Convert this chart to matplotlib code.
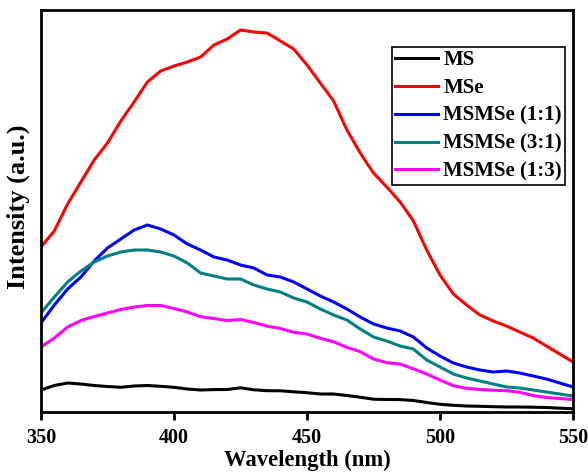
import numpy as np
import matplotlib
matplotlib.use('Agg')
import matplotlib.pyplot as plt

# espectros de fotoluminescência (intensidade em unidades arbitrárias)
wavelength = np.arange(350, 551, 5)

ms = [22, 26.5, 29, 28, 26.5, 25.5, 24.7, 26, 26.5, 25.7, 24.7, 23, 22, 22.4, 22.5,
      24.2, 22.2, 21.3, 21.2, 20.2, 19.3, 18, 18, 16.5, 14.8, 12.8, 12.5, 12.4, 11.5,
      9.5, 7.7, 6.7, 6, 5.7, 5.3, 5, 5, 4.8, 4.5, 3.8, 3.3]
mse = [165, 181, 208, 230, 252, 269, 291, 310, 330, 341, 346, 350, 355, 367, 373,
       382, 380, 379, 371, 363, 347, 329, 311, 282, 259, 239, 225, 210, 191, 162,
       137, 118, 107, 97, 91, 86, 80, 74, 66, 58, 50]
msmse_11 = [89, 107, 123, 135, 151, 164, 173, 182, 187, 183, 177, 168, 162, 155, 152,
            147, 144, 137, 135, 130, 123, 116, 110, 103, 95, 88, 84, 81, 75, 64, 56,
            49, 45, 42, 40, 41, 39, 36, 33, 29, 25]
msmse_31 = [99, 115, 130, 141, 150, 156, 160, 162, 162, 160, 156, 149, 139, 136, 133,
            133, 127, 123, 120, 114, 110, 103, 97, 92, 83, 75, 71, 66, 63, 52, 45, 38,
            34, 31, 28, 25, 24, 22, 20, 18, 16]
msmse_13 = [65, 74, 85, 91.5, 95.5, 99, 102.5, 105, 106.5, 106.5, 103.5, 100, 95.3,
            93.5, 91.5, 92.5, 89.5, 85.8, 83.5, 79.7, 78, 73.7, 70.2, 64.6, 60.3, 53,
            49.3, 48, 43.2, 38, 32, 26.3, 23.7, 22.5, 21.8, 21.3, 19.7, 16.4, 14.5,
            13.5, 12.5]

series = [ms, mse, msmse_11, msmse_31, msmse_13]
labels = ['MS', 'MSe', 'MSMSe (1:1)', 'MSMSe (3:1)', 'MSMSe (1:3)']
colors = ['black', '#ff0000', '#0000ff', '#008080', '#ff00ff']

plt.rcParams['font.family'] = ['Liberation Serif', 'DejaVu Serif']
plt.rcParams['font.weight'] = 'bold'

fig = plt.figure(figsize=(5.88, 4.72), dpi=100)
ax = fig.add_axes([41 / 588, 60 / 472, 532 / 588, 402 / 472])

for y, label, color in zip(series, labels, colors):
    ax.plot(wavelength, y, color=color, lw=2.2, label=label)

ax.set_xlim(350, 550)
ax.set_ylim(0, 402)
ax.set_xticks([350, 400, 450, 500, 550])
ax.set_yticks([])
ax.tick_params(axis='x', direction='out', length=5.5, width=2, pad=6, labelsize=14.5)
for s in ax.spines.values():
    s.set_linewidth(2)

ax.set_xlabel('Wavelength (nm)', fontsize=16.3, fontweight='bold', labelpad=1)
ax.set_ylabel('Intensity (a.u.)', fontsize=19, fontweight='bold')
ax.yaxis.set_label_coords(-0.02, 0.51)

leg = ax.legend(loc='upper right', bbox_to_anchor=(0.985, 0.908), fontsize=15,
                frameon=True, fancybox=False, edgecolor='black', framealpha=1,
                handlelength=2.05, handletextpad=0.25, labelspacing=0.38,
                borderpad=0.15, borderaxespad=0)
leg.get_frame().set_linewidth(1.2)

fig.savefig('out.png', dpi=100)
